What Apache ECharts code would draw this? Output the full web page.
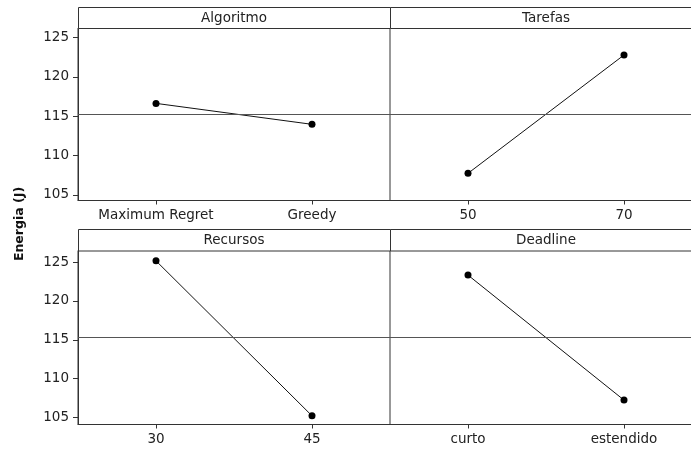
<!DOCTYPE html>
<html>
<head>
<meta charset="utf-8">
<script src="https://cdn.jsdelivr.net/npm/echarts@6/dist/echarts.min.js"></script>
<style>html,body{margin:0;padding:0;background:#fff}#c{width:691px;height:452px}</style>
</head>
<body>
<div id="c"></div>
<script>
// ---- data ----
const panelTitles = ["Algoritmo", "Tarefas", "Recursos", "Deadline"];
const catsAlgoritmo = ["Maximum Regret", "Greedy"];
const catsTarefas = ["50", "70"];
const catsRecursos = ["30", "45"];
const catsDeadline = ["curto", "estendido"];
const valsAlgoritmo = [116.64, 113.97];
const valsTarefas = [107.73, 122.80];
const valsRecursos = [125.17, 105.22];
const valsDeadline = [123.33, 107.24];
const grandMean = 115.27;
const yTicks = [105, 110, 115, 120, 125];
const yTitle = "Energia (J)";

const cats = [catsAlgoritmo, catsTarefas, catsRecursos, catsDeadline];
const vals = [valsAlgoritmo, valsTarefas, valsRecursos, valsDeadline];

// ---- layout ----
const FONT = "DejaVu Sans";
const FS = 13.5;
const TXT = "#222";
const LINE = "#333";
const colL = [78, 390];
const panelW = 312;
const rows = [
  {stripTop: 7, top: 28, h: 172.5, min: 104.27, max: 126.24},
  {stripTop: 229, top: 250.5, h: 174, min: 104.1, max: 126.5}
];

const chart = echarts.init(document.getElementById('c'));
const grid = [], xAxis = [], yAxis = [], series = [], graphic = [];
for (let i = 0; i < 4; i++) {
  const r = rows[Math.floor(i / 2)], c = i % 2;
  grid.push({left: colL[c], width: panelW, top: r.top, height: r.h,
    outerBoundsMode: 'none', containLabel: false,
    show: true, borderColor: LINE, borderWidth: c === 0 ? 1 : 0, backgroundColor: 'transparent'});
  xAxis.push({type: 'category', gridIndex: i, data: cats[i], boundaryGap: true,
    axisLine: {show: true, lineStyle: {color: LINE, width: 1}},
    axisTick: {show: true, alignWithLabel: true, length: 4, lineStyle: {color: LINE}},
    axisLabel: {color: TXT, fontFamily: FONT, fontSize: FS, margin: 8},
    splitLine: {show: false}});
  yAxis.push({type: 'value', gridIndex: i, min: r.min, max: r.max,
    axisLine: {show: c === 0, lineStyle: {color: LINE, width: 1}},
    axisTick: {show: c === 0, length: 5, customValues: yTicks, lineStyle: {color: LINE}},
    axisLabel: {show: c === 0, customValues: yTicks, color: TXT, fontFamily: FONT, fontSize: FS, margin: 9},
    splitLine: {show: false}});
  series.push({type: 'line', xAxisIndex: i, yAxisIndex: i, data: vals[i],
    symbol: 'circle', symbolSize: 7, itemStyle: {color: '#000'},
    lineStyle: {color: '#111', width: 1}, animation: false,
    markLine: {silent: true, symbol: 'none', label: {show: false},
      lineStyle: {color: '#555', width: 1, type: 'solid'},
      data: [{yAxis: grandMean}]}});
  graphic.push({type: 'rect', left: colL[c], top: r.stripTop,
    shape: {width: panelW, height: r.top - r.stripTop},
    style: {fill: '#fff', stroke: LINE, lineWidth: 1}, z: 1});
  graphic.push({type: 'text', x: colL[c] + panelW / 2, y: r.stripTop + (r.top - r.stripTop) / 2 + 1,
    style: {text: panelTitles[i], fill: TXT, font: FS + 'px "' + FONT + '"', textAlign: 'center', textVerticalAlign: 'middle'}, z: 2});
}
graphic.push({type: 'text', x: 20, y: 224, rotation: Math.PI / 2,
  style: {text: yTitle, fill: '#111', font: 'bold 12.5px "' + FONT + '"', textAlign: 'center', textVerticalAlign: 'middle'}, z: 2});

chart.setOption({animation: false, grid, xAxis, yAxis, series, graphic});
</script>
</body>
</html>
